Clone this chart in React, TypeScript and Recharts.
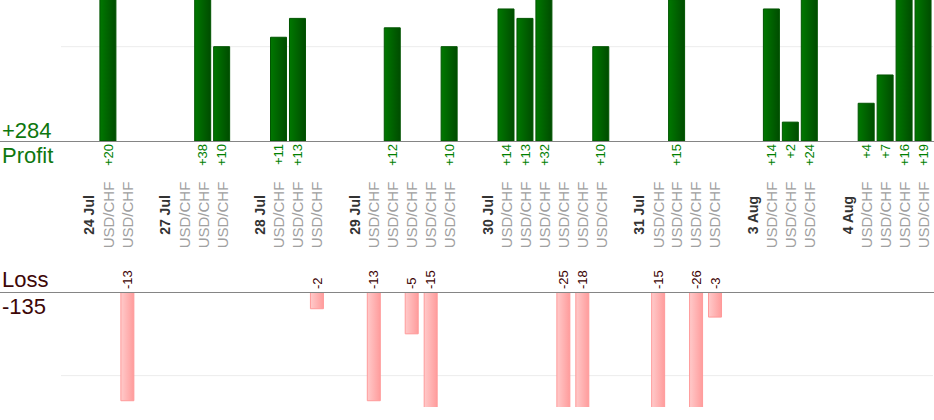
import React from 'react'
import { BarChart, Bar, XAxis, YAxis, CartesianGrid, LabelList } from 'recharts'

// one slot per column: blank spacer, day heading, then the trades of that day
const slotLabels = [
  '', '24 Jul', 'USD/CHF', 'USD/CHF',
  '', '27 Jul', 'USD/CHF', 'USD/CHF', 'USD/CHF',
  '', '28 Jul', 'USD/CHF', 'USD/CHF', 'USD/CHF',
  '', '29 Jul', 'USD/CHF', 'USD/CHF', 'USD/CHF', 'USD/CHF', 'USD/CHF',
  '', '30 Jul', 'USD/CHF', 'USD/CHF', 'USD/CHF', 'USD/CHF', 'USD/CHF', 'USD/CHF',
  '', '31 Jul', 'USD/CHF', 'USD/CHF', 'USD/CHF', 'USD/CHF',
  '', '3 Aug', 'USD/CHF', 'USD/CHF', 'USD/CHF',
  '', '4 Aug', 'USD/CHF', 'USD/CHF', 'USD/CHF', 'USD/CHF',
]

// result of each trade, null where the slot holds no trade
const pnl: (number | null)[] = [
  null, null, 20, -13,
  null, null, 0, 38, 10,
  null, null, 11, 13, -2,
  null, null, -13, 12, -5, -15, 10,
  null, null, 14, 13, 32, -25, -18, 10,
  null, null, -15, 15, -26, -3,
  null, null, 14, 2, 24,
  null, null, 4, 7, 16, 19,
]

const PAIR = 'USD/CHF'
const FONT = '"Liberation Sans", Arial, sans-serif'

const rows = slotLabels.map((label, i) => {
  const v = pnl[i]
  return {
    label,
    profit: v !== null && v > 0 ? v : null,
    loss: v !== null && v < 0 ? v : null,
  }
})

const totalProfit = pnl.reduce<number>((s, v) => (v && v > 0 ? s + v : s), 0)
const totalLoss = pnl.reduce<number>((s, v) => (v && v < 0 ? s + v : s), 0)

if (typeof document !== 'undefined') document.body.style.margin = '0'

function SlotTick(props: any) {
  const { x, y, payload } = props
  const text = payload.value as string
  if (!text) return null
  const isPair = text === PAIR
  const cy = y + 74
  return (
    <text
      x={x}
      y={cy}
      dy="0.36em"
      transform={`rotate(-90, ${x}, ${cy})`}
      textAnchor="middle"
      fontFamily={FONT}
      fontSize={isPair ? 15 : 14}
      fontWeight={isPair ? 'normal' : 'bold'}
      fill={isPair ? '#a0a0a0' : '#333333'}
    >
      {text}
    </text>
  )
}

function ProfitLabel(props: any) {
  const vb = props.viewBox || props
  const v = Number(props.value)
  if (!v) return null
  const cx = Number(vb.x) + Number(vb.width) / 2
  const base = Math.max(Number(vb.y), Number(vb.y) + Number(vb.height)) + 3
  return (
    <text
      x={cx}
      y={base}
      dy="0.36em"
      transform={`rotate(-90, ${cx}, ${base})`}
      textAnchor="end"
      fontFamily={FONT}
      fontSize={13}
      fill="#008000"
    >
      {'+' + v}
    </text>
  )
}

function LossLabel(props: any) {
  const vb = props.viewBox || props
  const v = Number(props.value)
  if (!v) return null
  const cx = Number(vb.x) + Number(vb.width) / 2
  const base = Math.min(Number(vb.y), Number(vb.y) + Number(vb.height)) - 3
  return (
    <text
      x={cx}
      y={base}
      dy="0.36em"
      transform={`rotate(-90, ${cx}, ${base})`}
      textAnchor="start"
      fontFamily={FONT}
      fontSize={13}
      fill="#3a0000"
    >
      {String(v)}
    </text>
  )
}

export default function App() {
  return (
    <div style={{ position: 'relative', width: 934, height: 420, overflow: 'hidden', background: '#fff' }}>
      <div style={{ position: 'absolute', left: 0, top: 0 }}>
        <BarChart width={934} height={250} data={rows} margin={{ top: 0, right: 1, left: 61, bottom: 0 }}>
          <defs>
            <linearGradient id="gGreen" x1="0" y1="0" x2="1" y2="0">
              <stop offset="0%" stopColor="#007800" />
              <stop offset="100%" stopColor="#004c00" />
            </linearGradient>
          </defs>
          <CartesianGrid vertical={false} stroke="#ececec" horizontalValues={[10]} />
          <YAxis hide domain={[0, 14.95]} ticks={[10]} allowDataOverflow />
          <XAxis
            dataKey="label"
            interval={0}
            height={109}
            axisLine={false}
            tickLine={false}
            tickSize={0}
            tickMargin={0}
            tick={<SlotTick />}
          />
          <Bar dataKey="profit" barSize={16} fill="url(#gGreen)" stroke="#005400" isAnimationActive={false}>
            <LabelList dataKey="profit" content={(p: any) => <ProfitLabel {...p} />} />
          </Bar>
        </BarChart>
      </div>

      <div style={{ position: 'absolute', left: 0, top: 262 }}>
        <BarChart width={934} height={145} data={rows} margin={{ top: 30, right: 1, left: 61, bottom: 0 }}>
          <defs>
            <linearGradient id="gPink" x1="0" y1="0" x2="1" y2="0">
              <stop offset="0%" stopColor="#ffcaca" />
              <stop offset="100%" stopColor="#ff9c9c" />
            </linearGradient>
          </defs>
          <CartesianGrid vertical={false} stroke="#ececec" horizontalValues={[-10]} />
          <YAxis hide domain={[-13.75, 0]} ticks={[-10]} allowDataOverflow />
          <XAxis dataKey="label" hide />
          <Bar dataKey="loss" barSize={13} fill="url(#gPink)" stroke="#ff9a9a" isAnimationActive={false}>
            <LabelList dataKey="loss" content={(p: any) => <LossLabel {...p} />} />
          </Bar>
        </BarChart>
      </div>

      <svg width={934} height={420} style={{ position: 'absolute', left: 0, top: 0, pointerEvents: 'none' }}>
        <line x1={0} x2={934} y1={141.5} y2={141.5} stroke="#858585" strokeWidth={1} />
        <line x1={0} x2={934} y1={292.5} y2={292.5} stroke="#858585" strokeWidth={1} />
        <g fontFamily={FONT} fontSize={22}>
          <text x={2} y={138} fill="#0e770e">{'+' + totalProfit}</text>
          <text x={2} y={163} fill="#0e770e">Profit</text>
          <text x={2} y={287} fill="#3d0707">Loss</text>
          <text x={2} y={314} fill="#3d0707">{String(totalLoss)}</text>
        </g>
      </svg>
    </div>
  )
}
